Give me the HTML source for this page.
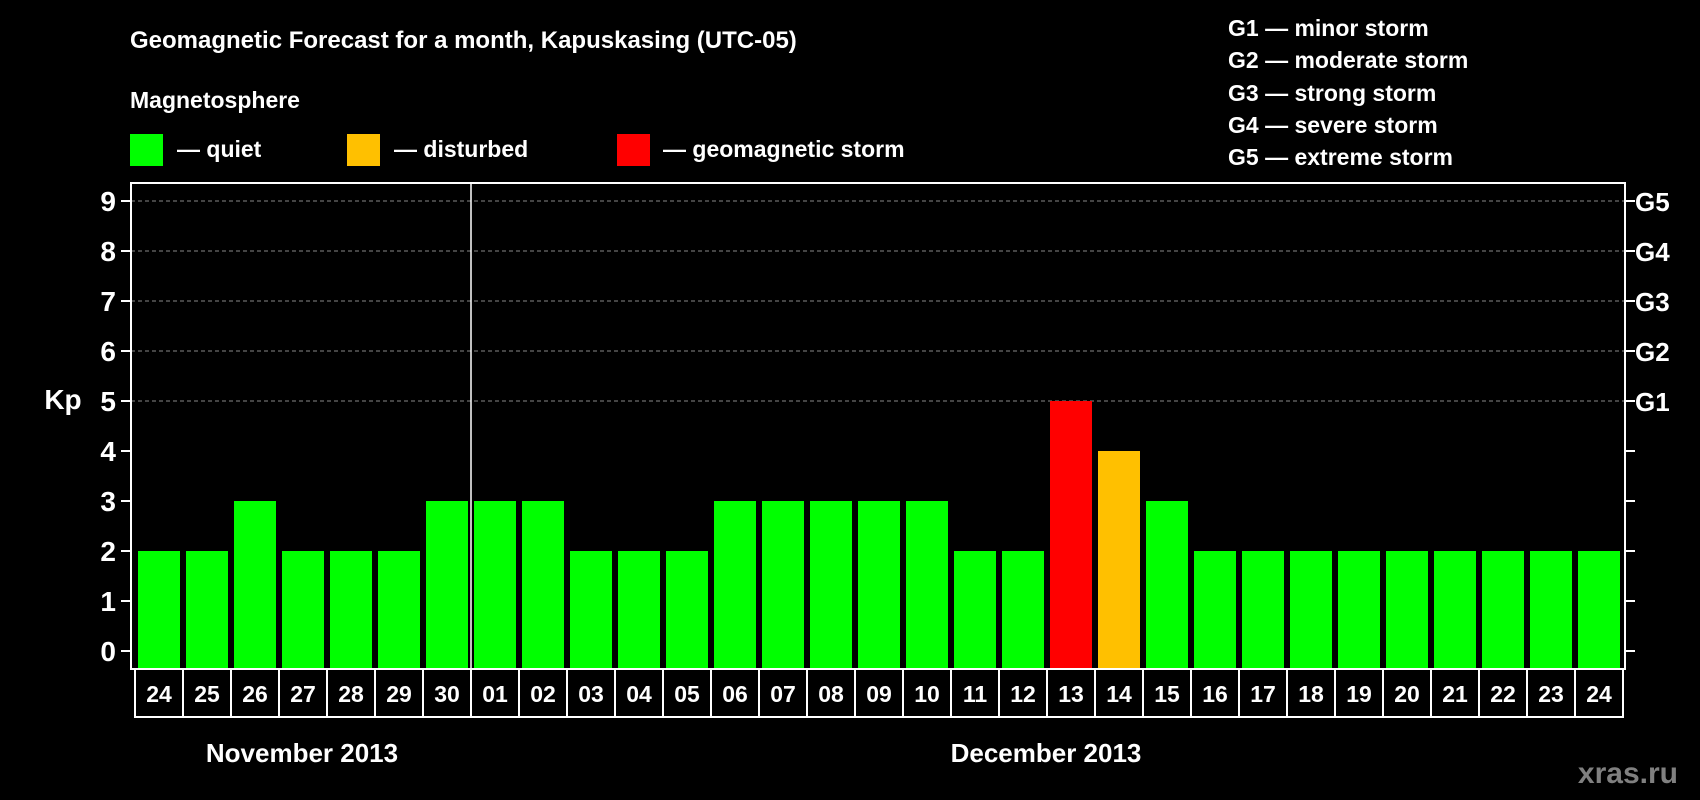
<!DOCTYPE html>
<html><head><meta charset="utf-8"><style>
html,body{margin:0;padding:0;background:#000;width:1700px;height:800px;overflow:hidden}
svg text{font-family:"Liberation Sans",sans-serif;font-weight:bold;fill:#fff}
</style></head><body>
<svg id="chart" width="1700" height="800" xmlns="http://www.w3.org/2000/svg">
<text x="130" y="48" font-size="24">Geomagnetic Forecast for a month, Kapuskasing (UTC-05)</text>
<text x="130" y="108" font-size="23">Magnetosphere</text>
<rect x="130" y="134" width="33" height="32" fill="#00ff00"/>
<text x="177" y="157" font-size="23">— quiet</text>
<rect x="347" y="134" width="33" height="32" fill="#ffc000"/>
<text x="394" y="157" font-size="23">— disturbed</text>
<rect x="617" y="134" width="33" height="32" fill="#ff0000"/>
<text x="663" y="157" font-size="23">— geomagnetic storm</text>
<g font-size="23">
<text x="1228" y="36">G1 — minor storm</text>
<text x="1228" y="68">G2 — moderate storm</text>
<text x="1228" y="101">G3 — strong storm</text>
<text x="1228" y="133">G4 — severe storm</text>
<text x="1228" y="165">G5 — extreme storm</text>
</g>
<text x="63" y="409" font-size="28" text-anchor="middle">Kp</text>
<text x="302" y="762" font-size="26" text-anchor="middle">November 2013</text>
<text x="1046" y="762" font-size="26" text-anchor="middle">December 2013</text>
<text x="1678" y="783" font-size="30" text-anchor="end" style="fill:#808080">xras.ru</text>
<g id="grid"></g><g id="bars"></g><g id="axes"></g>
</svg>
<script>
const days=["24","25","26","27","28","29","30","01","02","03","04","05","06","07","08","09","10","11","12","13","14","15","16","17","18","19","20","21","22","23","24"];
const kpValues=[2,2,3,2,2,2,3,3,3,2,2,2,3,3,3,3,3,2,2,5,4,3,2,2,2,2,2,2,2,2,2];
const yTicks=[0,1,2,3,4,5,6,7,8,9];
const gLabels=["G1","G2","G3","G4","G5"];
const NS="http://www.w3.org/2000/svg";
const L=131,R=1625,T=183,B=669,X0=135,SLOT=48;
const y=v=>651-v*50;
const x=i=>X0+i*SLOT;
function mk(tag,attrs,parent){const e=document.createElementNS(NS,tag);for(const k in attrs)e.setAttribute(k,attrs[k]);parent.appendChild(e);return e;}
const grid=document.getElementById('grid'),bars=document.getElementById('bars'),axes=document.getElementById('axes');
yTicks.forEach(v=>{
 if(v>=5){const g=mk('line',{x1:L,x2:R,y1:y(v),y2:y(v),stroke:'#888','stroke-dasharray':'4,3','stroke-width':1},grid);
 
 }
 const t=mk('line',{x1:L-10,x2:L,y1:y(v),y2:y(v),stroke:'#fff','stroke-width':2},axes);
 
 
 const t2=mk('line',{x1:R,x2:R+10,y1:y(v),y2:y(v),stroke:'#fff','stroke-width':2},axes);
 
 
 const lb=mk('text',{x:L-15,y:y(v)+10,'font-size':28,'text-anchor':'end'},axes);lb.textContent=v;
 
 
});
gLabels.forEach((g,i)=>{const lb=mk('text',{x:R+10,y:y(5+i)+10,'font-size':26},axes);lb.textContent=g;
 
 });
kpValues.forEach((v,i)=>{
 const c=v>=5?'#ff0000':(v>=4?'#ffc000':'#00ff00');
 const b=mk('rect',{x:x(i)+3,y:y(v),width:42,height:B-1-y(v),fill:c},bars);
 
 
});
const frame=mk('rect',{x:L,y:T,width:R-L,height:B-T,fill:'none',stroke:'#fff','stroke-width':2},axes);


const ml=mk('line',{x1:x(7),x2:x(7),y1:T,y2:B,stroke:'#fff','stroke-width':1.5},axes);


days.forEach((d,i)=>{
 const c=mk('rect',{x:x(i),y:B,width:SLOT,height:48,fill:'#000',stroke:'#fff','stroke-width':2},axes);
 
 
 const t=mk('text',{x:x(i)+SLOT/2,y:B+33,'font-size':23,'text-anchor':'middle'},axes);t.textContent=d;
 
 
});
</script>
</body></html>
